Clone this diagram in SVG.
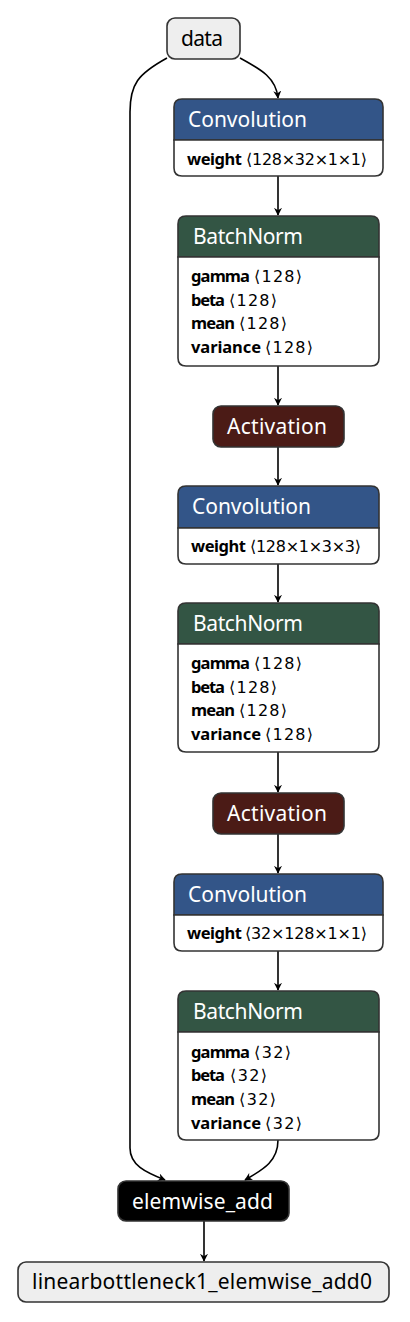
<svg xmlns="http://www.w3.org/2000/svg" width="410" height="1322" viewBox="0 0 410 1322">
<defs>
<marker id="arr" viewBox="0 0 10 10" refX="9" refY="5" markerWidth="8" markerHeight="8" markerUnits="userSpaceOnUse" orient="auto">
<path d="M0,0 L10,5 L0,10 L3,5 Z" fill="#000"/>
</marker>
<style>
.t{font-family:"Noto Sans","DejaVu Sans",sans-serif;}
.title{font-size:21px;fill:#fff;}
.io{font-size:21px;fill:#000;}
.attr{font-size:16.500px;fill:#000;}
.v{font-family:"DejaVu Sans","Noto Sans",sans-serif;font-size:16px;fill:#000;}
.b{font-weight:bold;}
.box{stroke:#333;stroke-width:1.6;}
.edge{fill:none;stroke:#000;stroke-width:1.6;marker-end:url(#arr);}
</style>
</defs>
<rect width="410" height="1322" fill="#fff"/>
<g id="edges">
<path class="edge" d="M240,58 C262,70 276,78 278,98"/>
<path class="edge" d="M167,58 C138,74 130,84 130,112 L130,1148 C130,1165 145,1172 165,1180"/>
<path class="edge" d="M278,176 L278,215"/>
<path class="edge" d="M278,366 L278,405"/>
<path class="edge" d="M278,447 L278,485"/>
<path class="edge" d="M278,564 L278,602"/>
<path class="edge" d="M278,752 L278,792"/>
<path class="edge" d="M278,834 L278,873"/>
<path class="edge" d="M278,951 L278,990"/>
<path class="edge" d="M278,1140 C278,1162 262,1170 245,1180"/>
<path class="edge" d="M204,1221 L204,1261"/>
</g>
<g id="data">
<rect class="box" x="167" y="18" width="73" height="41" rx="8" fill="#eee"/>
<text class="t io" x="181" y="46" textLength="42">data</text>
</g>
<g id="conv1">
<path class="box" d="M174,140 L174,107 Q174,99 182,99 L375,99 Q383,99 383,107 L383,140 Z" fill="#335588"/>
<path class="box" d="M174,140 L383,140 L383,168 Q383,176 375,176 L182,176 Q174,176 174,168 Z" fill="#fff"/>
<text class="t title" x="188" y="127" textLength="119">Convolution</text>
<text class="t attr b" x="187" y="165" textLength="55">weight</text>
<text class="v" x="246" y="165" textLength="121">⟨128×32×1×1⟩</text>
</g>
<g id="bn1">
<path class="box" d="M178,257 L178,224 Q178,216 186,216 L371,216 Q379,216 379,224 L379,257 Z" fill="#335544"/>
<path class="box" d="M178,257 L379,257 L379,358 Q379,366 371,366 L186,366 Q178,366 178,358 Z" fill="#fff"/>
<text class="t title" x="193" y="244" textLength="110">BatchNorm</text>
<text class="t attr b" x="191" y="282" textLength="59">gamma</text>
<text class="v" x="254" y="282" textLength="48">⟨128⟩</text>
<text class="t attr b" x="191" y="305.500" textLength="34">beta</text>
<text class="v" x="229" y="305.500" textLength="48">⟨128⟩</text>
<text class="t attr b" x="191" y="329" textLength="44">mean</text>
<text class="v" x="239" y="329" textLength="48">⟨128⟩</text>
<text class="t attr b" x="191" y="353" textLength="70">variance</text>
<text class="v" x="265" y="353" textLength="48">⟨128⟩</text>
</g>
<g id="act1">
<rect class="box" x="213" y="406" width="131" height="41" rx="8" fill="#4b1b16"/>
<text class="t title" x="227" y="434" textLength="100">Activation</text>
</g>
<g id="conv2">
<path class="box" d="M178,528 L178,494 Q178,486 186,486 L371,486 Q379,486 379,494 L379,528 Z" fill="#335588"/>
<path class="box" d="M178,528 L379,528 L379,556 Q379,564 371,564 L186,564 Q178,564 178,556 Z" fill="#fff"/>
<text class="t title" x="192" y="514" textLength="119">Convolution</text>
<text class="t attr b" x="191" y="552" textLength="55">weight</text>
<text class="v" x="250" y="552" textLength="111">⟨128×1×3×3⟩</text>
</g>
<g id="bn2">
<path class="box" d="M178,644 L178,611 Q178,603 186,603 L371,603 Q379,603 379,611 L379,644 Z" fill="#335544"/>
<path class="box" d="M178,644 L379,644 L379,744 Q379,752 371,752 L186,752 Q178,752 178,744 Z" fill="#fff"/>
<text class="t title" x="193" y="631" textLength="110">BatchNorm</text>
<text class="t attr b" x="191" y="669" textLength="59">gamma</text>
<text class="v" x="254" y="669" textLength="48">⟨128⟩</text>
<text class="t attr b" x="191" y="692.500" textLength="34">beta</text>
<text class="v" x="229" y="692.500" textLength="48">⟨128⟩</text>
<text class="t attr b" x="191" y="716" textLength="44">mean</text>
<text class="v" x="239" y="716" textLength="48">⟨128⟩</text>
<text class="t attr b" x="191" y="740" textLength="70">variance</text>
<text class="v" x="265" y="740" textLength="48">⟨128⟩</text>
</g>
<g id="act2">
<rect class="box" x="213" y="793" width="131" height="41" rx="8" fill="#4b1b16"/>
<text class="t title" x="227" y="821" textLength="100">Activation</text>
</g>
<g id="conv3">
<path class="box" d="M174,915 L174,882 Q174,874 182,874 L375,874 Q383,874 383,882 L383,915 Z" fill="#335588"/>
<path class="box" d="M174,915 L383,915 L383,943 Q383,951 375,951 L182,951 Q174,951 174,943 Z" fill="#fff"/>
<text class="t title" x="188" y="902" textLength="119">Convolution</text>
<text class="t attr b" x="187" y="939" textLength="55">weight</text>
<text class="v" x="245" y="939" textLength="122">⟨32×128×1×1⟩</text>
</g>
<g id="bn3">
<path class="box" d="M178,1032 L178,999 Q178,991 186,991 L371,991 Q379,991 379,999 L379,1032 Z" fill="#335544"/>
<path class="box" d="M178,1032 L379,1032 L379,1132 Q379,1140 371,1140 L186,1140 Q178,1140 178,1132 Z" fill="#fff"/>
<text class="t title" x="193" y="1019" textLength="110">BatchNorm</text>
<text class="t attr b" x="191" y="1057.500" textLength="59">gamma</text>
<text class="v" x="254" y="1057.500" textLength="37">⟨32⟩</text>
<text class="t attr b" x="191" y="1081" textLength="34">beta</text>
<text class="v" x="230" y="1081" textLength="37">⟨32⟩</text>
<text class="t attr b" x="191" y="1104.500" textLength="44">mean</text>
<text class="v" x="239" y="1104.500" textLength="37">⟨32⟩</text>
<text class="t attr b" x="191" y="1128.500" textLength="70">variance</text>
<text class="v" x="265" y="1128.500" textLength="37">⟨32⟩</text>
</g>
<g id="add">
<rect class="box" x="118" y="1181" width="171" height="40" rx="8" fill="#000"/>
<text class="t title" x="132" y="1209" textLength="141">elemwise_add</text>
</g>
<g id="output">
<rect class="box" x="18" y="1262" width="371" height="40" rx="8" fill="#eee"/>
<text class="t io" x="32" y="1289" textLength="340">linearbottleneck1_elemwise_add0</text>
</g>
</svg>
